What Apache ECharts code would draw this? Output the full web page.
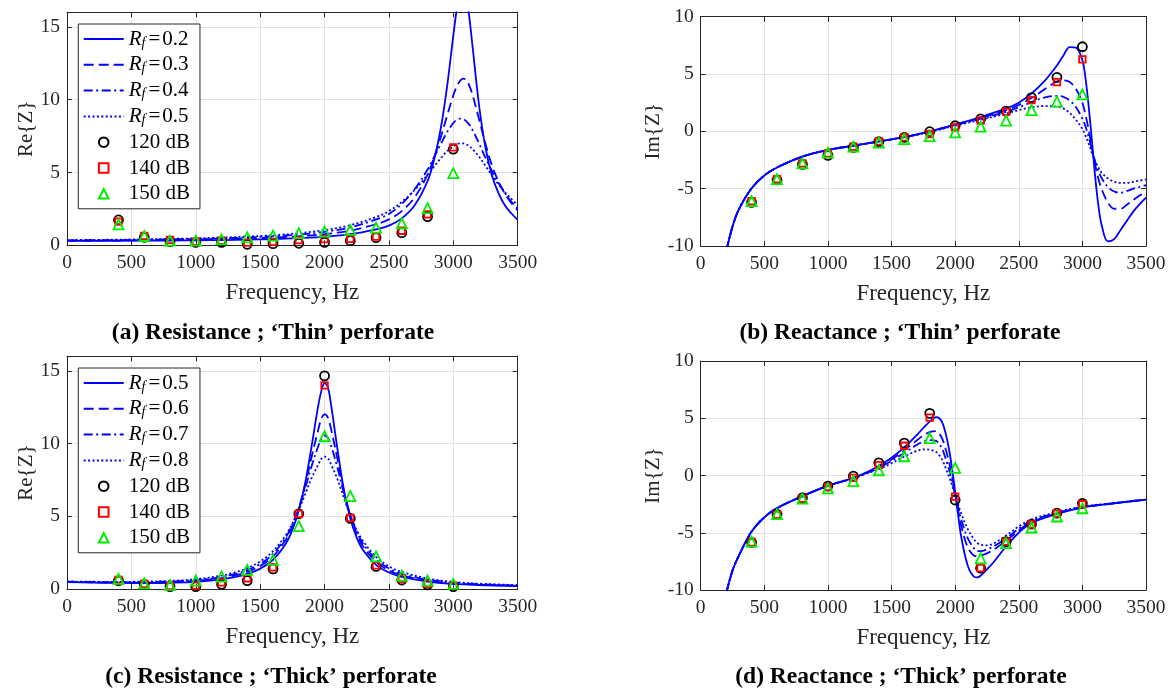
<!DOCTYPE html>
<html><head><meta charset="utf-8">
<script src="https://cdn.jsdelivr.net/npm/echarts@6/dist/echarts.min.js"></script>
<style>html,body{margin:0;padding:0;background:#fff}#c{width:1172px;height:692px}</style>
</head><body><div id="c"></div>
<script>
// ---------- data ----------
const FA = [0,200,400,600,800,1000,1200,1400,1600,1800,2000,2200,2400,2500,2600,2700,2800,2850,2900,2950,3000,3025,3050,3075,3100,3125,3150,3200,3250,3300,3350,3400,3450,3500];
const reThin02 = [0.30,0.30,0.31,0.32,0.33,0.34,0.36,0.39,0.43,0.49,0.58,0.76,1.10,1.35,1.85,2.75,4.40,5.85,7.90,10.8,14.4,16.1,17.3,17.7,17.1,15.6,13.6,9.6,6.7,4.8,3.6,2.75,2.2,1.75];
const reThin03 = [0.32,0.33,0.34,0.35,0.37,0.39,0.43,0.47,0.53,0.62,0.77,1.01,1.45,1.78,2.35,3.30,4.85,6.00,7.35,8.85,10.3,10.88,11.27,11.45,11.35,10.95,10.3,8.65,6.95,5.5,4.4,3.55,2.9,2.4];
const reThin04 = [0.34,0.35,0.36,0.38,0.41,0.44,0.48,0.54,0.62,0.74,0.92,1.23,1.78,2.15,2.85,3.85,5.2,6.05,6.9,7.75,8.4,8.6,8.7,8.68,8.53,8.27,7.9,7.0,6.0,5.1,4.3,3.6,3.0,2.55];
const reThin05 = [0.36,0.37,0.39,0.41,0.44,0.48,0.53,0.6,0.69,0.83,1.04,1.38,1.94,2.35,2.98,3.8,4.85,5.4,5.95,6.45,6.8,6.93,7.0,7.0,6.93,6.8,6.6,6.08,5.45,4.8,4.2,3.65,3.2,2.75];

const FB = [200,250,300,400,500,600,800,1000,1200,1400,1600,1800,2000,2200,2400,2500,2600,2700,2800,2850,2900,2950,3000,3025,3050,3075,3100,3125,3150,3200,3250,3300,3350,3400,3450,3500];
const imThin02 = [-10.5,-8.3,-6.8,-4.97,-3.85,-3.15,-2.2,-1.63,-1.25,-0.88,-0.5,0.0,0.6,1.25,2.0,2.5,3.3,4.35,5.75,6.6,7.35,7.3,6.2,4.6,2.1,-0.8,-3.9,-6.4,-8.1,-9.6,-9.4,-8.6,-7.8,-7.0,-6.35,-5.78];
const imThin03 = [-10.5,-8.3,-6.8,-4.97,-3.85,-3.15,-2.2,-1.63,-1.25,-0.88,-0.5,-0.02,0.58,1.18,1.85,2.3,2.9,3.65,4.35,4.45,4.3,3.7,2.5,1.4,0.1,-1.5,-2.9,-4.1,-5.0,-6.2,-6.75,-6.75,-6.4,-6.0,-5.6,-5.3];
const imThin04 = [-10.5,-8.3,-6.8,-4.97,-3.85,-3.15,-2.2,-1.63,-1.25,-0.88,-0.5,-0.04,0.55,1.1,1.7,2.1,2.55,2.95,3.1,3.0,2.7,2.1,1.1,0.4,-0.5,-1.6,-2.6,-3.4,-4.05,-4.85,-5.25,-5.35,-5.2,-5.0,-4.85,-4.7];
const imThin05 = [-10.5,-8.3,-6.8,-4.97,-3.85,-3.15,-2.2,-1.63,-1.25,-0.88,-0.5,-0.06,0.5,1.0,1.55,1.85,2.1,2.2,2.15,2.0,1.6,1.0,0.2,-0.4,-1.1,-1.9,-2.6,-3.15,-3.6,-4.1,-4.4,-4.5,-4.5,-4.4,-4.3,-4.2];

const FC = [0,200,400,600,800,1000,1200,1300,1400,1500,1600,1700,1750,1800,1850,1900,1950,1975,2000,2025,2050,2100,2150,2200,2250,2300,2400,2500,2600,2800,3000,3200,3500];
const reThick05 = [0.47,0.44,0.42,0.41,0.43,0.49,0.66,0.81,1.04,1.4,2.01,3.13,4.06,5.4,7.3,9.84,12.55,13.6,14.15,13.9,12.7,9.63,6.83,4.85,3.53,2.66,1.66,1.13,0.83,0.51,0.35,0.27,0.2];
const reThick06 = [0.48,0.46,0.44,0.44,0.47,0.55,0.75,0.92,1.18,1.58,2.24,3.4,4.31,5.55,7.15,9.09,10.91,11.7,12.0,11.8,11.02,8.94,6.76,5.03,3.79,2.92,1.87,1.28,0.95,0.58,0.4,0.3,0.22];
const reThick07 = [0.5,0.48,0.46,0.47,0.51,0.61,0.82,1.02,1.3,1.72,2.41,3.57,4.44,5.55,6.93,8.45,9.79,10.3,10.55,10.4,9.87,8.34,6.61,5.11,3.95,3.1,2.03,1.41,1.04,0.64,0.44,0.33,0.24];
const reThick08 = [0.52,0.5,0.49,0.51,0.56,0.67,0.92,1.13,1.44,1.89,2.6,3.72,4.5,5.44,6.53,7.63,8.52,8.95,9.1,9.0,8.57,7.55,6.27,5.07,4.06,3.28,2.21,1.56,1.17,0.72,0.49,0.37,0.27];

const FD = [200,250,300,400,500,600,800,1000,1200,1300,1400,1500,1600,1700,1750,1800,1850,1875,1900,1925,1950,1975,2000,2025,2050,2100,2150,2175,2200,2250,2300,2400,2500,2600,2800,3000,3200,3500];
const imThick05 = [-10.3,-8.3,-7.0,-4.9,-3.65,-2.85,-1.8,-0.9,-0.2,0.25,0.85,1.55,2.45,3.55,4.15,4.7,5.1,5.0,4.6,3.7,2.4,0.65,-1.45,-3.6,-5.5,-7.9,-8.85,-8.9,-8.75,-8.2,-7.6,-6.2,-5.0,-4.15,-3.35,-2.8,-2.5,-2.1];
const imThick06 = [-10.3,-8.3,-7.0,-4.9,-3.65,-2.85,-1.8,-0.9,-0.22,0.22,0.76,1.4,2.2,3.08,3.5,3.79,3.88,3.65,3.18,2.32,1.25,-0.07,-1.58,-3.11,-4.5,-6.3,-7.0,-7.05,-7.0,-6.8,-6.5,-5.7,-4.8,-4.06,-3.31,-2.78,-2.49,-2.1];
const imThick07 = [-10.3,-8.3,-7.0,-4.9,-3.65,-2.85,-1.8,-0.9,-0.24,0.19,0.67,1.27,1.97,2.68,2.97,3.09,3.02,2.74,2.27,1.49,0.58,-0.47,-1.65,-2.83,-3.93,-5.5,-6.4,-6.6,-6.6,-6.45,-6.2,-5.5,-4.65,-3.97,-3.27,-2.76,-2.48,-2.1];
const imThick08 = [-10.3,-8.3,-7.0,-4.9,-3.65,-2.85,-1.8,-0.9,-0.26,0.15,0.54,1.07,1.65,2.15,2.28,2.25,2.06,1.76,1.33,0.66,-0.06,-0.84,-1.71,-2.58,-3.39,-4.7,-5.6,-5.9,-6.05,-6.1,-5.95,-5.25,-4.45,-3.83,-3.2,-2.72,-2.46,-2.1];

const FM = [400,600,800,1000,1200,1400,1600,1800,2000,2200,2400,2600,2800,3000];
const reThin120 = [1.74,0.55,0.25,0.2,0.2,0.07,0.11,0.14,0.2,0.32,0.53,0.87,1.97,6.6];
const reThin140 = [1.63,0.64,0.37,0.25,0.32,0.18,0.23,0.35,0.42,0.44,0.6,1.0,2.13,6.72];
const reThin150 = [1.44,0.64,0.32,0.32,0.41,0.55,0.67,0.83,0.94,1.06,1.22,1.51,2.55,4.95];
const imThin120 = [-6.19,-4.24,-2.88,-2.09,-1.4,-0.9,-0.52,-0.03,0.49,1.08,1.77,2.94,4.71,7.38];
const imThin140 = [-6.08,-4.16,-2.79,-1.92,-1.34,-0.87,-0.52,-0.23,0.35,0.93,1.69,2.73,4.3,6.28];
const imThin150 = [-6.08,-4.16,-2.79,-1.86,-1.34,-0.99,-0.67,-0.41,-0.09,0.41,0.93,1.86,2.59,3.23];
const reThick120 = [0.58,0.32,0.16,0.16,0.32,0.58,1.38,5.17,14.65,4.85,1.55,0.62,0.28,0.16];
const reThick140 = [0.62,0.35,0.21,0.23,0.46,0.74,1.48,5.17,14.0,4.89,1.62,0.69,0.35,0.23];
const reThick150 = [0.69,0.39,0.28,0.58,0.85,1.32,2.0,4.32,10.5,6.39,2.24,0.92,0.58,0.35];
const imThick120 = [-5.84,-3.38,-1.94,-0.92,-0.06,1.1,2.83,5.43,-2.14,-8.09,-5.78,-4.25,-3.29,-2.43];
const imThick140 = [-5.84,-3.44,-2.02,-1.01,-0.2,0.9,2.6,5.06,-1.85,-8.09,-5.78,-4.28,-3.32,-2.51];
const imThick150 = [-5.78,-3.38,-2.02,-1.13,-0.49,0.46,1.68,3.27,0.66,-7.23,-5.9,-4.54,-3.58,-2.86];

const rfThin = ['0.2','0.3','0.4','0.5'];
const rfThick = ['0.5','0.6','0.7','0.8'];
const splLabels = ['120 dB','140 dB','150 dB'];
const titles = ['(a) Resistance ; \u2018Thin\u2019 perforate','(b) Reactance ; \u2018Thin\u2019 perforate','(c) Resistance ; \u2018Thick\u2019 perforate','(d) Reactance ; \u2018Thick\u2019 perforate'];

// ---------- styling / layout ----------
const SERIF = '"Liberation Serif","Times New Roman",serif';
const AX = '#262626';
const BLUE = '#0000ff';
const lineTypes = ['solid', [10,5], [9,3.5,2,3.5], [2,2.4]];
const markerDefs = [
  {symbol:'circle', size:9, color:'#000000'},
  {symbol:'rect', size:6.5, color:'#ff0000'},
  {symbol:'triangle', size:10, color:'#00ee00'}
];

const panels = [
  {prefix:'A', grid:{left:67,top:12.3,width:450.7,height:233}, ymin:0, ymax:16, yname:'Re{Z}', ngap:29,
   fx:FA, lines:[reThin02,reThin03,reThin04,reThin05], rf:rfThin, marks:[reThin120,reThin140,reThin150], legendTop:24, title:[273,333]},
  {prefix:'B', grid:{left:700.7,top:16.7,width:445.3,height:229.3}, ymin:-10, ymax:10, yname:'Im{Z}', ngap:36,
   fx:FB, lines:[imThin02,imThin03,imThin04,imThin05], rf:rfThin, marks:[imThin120,imThin140,imThin150], title:[900,333]},
  {prefix:'C', grid:{left:67,top:356.2,width:450.7,height:232.8}, ymin:0, ymax:16, yname:'Re{Z}', ngap:29,
   fx:FC, lines:[reThick05,reThick06,reThick07,reThick08], rf:rfThick, marks:[reThick120,reThick140,reThick150], legendTop:368, title:[271,677]},
  {prefix:'D', grid:{left:700.7,top:361,width:445.3,height:229}, ymin:-10, ymax:10, yname:'Im{Z}', ngap:36,
   fx:FD, lines:[imThick05,imThick06,imThick07,imThick08], rf:rfThick, marks:[imThick120,imThick140,imThick150], title:[901,677]}
];

function pairs(xs, ys){ return xs.map((x,i)=>[x, ys[i]]); }

const grids=[], xAxes=[], yAxes=[], series=[], legends=[], graphics=[];
const axLine = {show:true, onZero:false, lineStyle:{color:AX, width:1}};
const axTick = {show:true, inside:true, length:5, lineStyle:{color:AX, width:1}};
const splitL = {show:true, lineStyle:{color:'#e2e2e2', width:1}};
const tickFont = {fontFamily:SERIF, fontSize:19.5, color:AX, formatter:function(v){ return String(v); }};

panels.forEach((p, i) => {
  grids.push(Object.assign({show:false, containLabel:false}, p.grid));
  const xb = {type:'value', gridIndex:i, min:0, max:3500, interval:500, position:'bottom',
    axisLine:axLine, axisTick:axTick, splitLine:splitL,
    axisLabel:Object.assign({margin:8}, tickFont),
    name:'Frequency, Hz', nameLocation:'middle', nameGap:36,
    nameTextStyle:{fontFamily:SERIF, fontSize:23, color:AX}};
  const xt = {type:'value', gridIndex:i, min:0, max:3500, interval:500, position:'top',
    axisLine:axLine, axisTick:axTick, splitLine:{show:false}, axisLabel:{show:false}};
  xAxes.push(xb, xt);
  const yl = {type:'value', gridIndex:i, min:p.ymin, max:p.ymax, interval:5, position:'left',
    axisLine:axLine, axisTick:axTick, splitLine:splitL,
    axisLabel:Object.assign({margin:7, showMaxLabel: p.ymax===16 ? false : true}, tickFont),
    name:p.yname, nameLocation:'middle', nameGap:p.ngap, nameRotate:90,
    nameTextStyle:{fontFamily:SERIF, fontSize:21, color:AX}};
  const yr = {type:'value', gridIndex:i, min:p.ymin, max:p.ymax, interval:5, position:'right',
    axisLine:axLine, axisTick:axTick, splitLine:{show:false}, axisLabel:{show:false}};
  yAxes.push(yl, yr);

  const names = [];
  p.lines.forEach((ys, k) => {
    const nm = p.prefix + '|Rf=' + p.rf[k];
    names.push(nm);
    series.push({type:'line', name:nm, xAxisIndex:2*i, yAxisIndex:2*i,
      data:pairs(p.fx, ys), symbol:'none', showSymbol:false, smooth:0.35, clip:true,
      lineStyle:{color:BLUE, width:1.8, type:lineTypes[k]}, itemStyle:{color:BLUE},
      z:2, silent:true});
  });
  p.marks.forEach((ys, k) => {
    const md = markerDefs[k];
    const nm = p.prefix + '|' + splLabels[k];
    names.push(nm);
    // markers only: a line series whose connecting line is invisible
    series.push({type:'line', name:nm, xAxisIndex:2*i, yAxisIndex:2*i,
      data:pairs(FM, ys), symbol:md.symbol, symbolSize:md.size, showSymbol:true, showAllSymbol:true,
      lineStyle:{width:0, opacity:0},
      itemStyle:{color:'rgba(255,255,255,0)', borderColor:md.color, borderWidth:1.8, opacity:1},
      z:3, silent:true});
  });
  if (p.legendTop !== undefined) {
    legends.push({
      orient:'vertical', left:78.3, top:p.legendTop,
      data:names.map((n, k) => k < 4 ? {name:n, itemStyle:{opacity:0}} : {name:n}),
      itemWidth:40, itemHeight:12, itemGap:3.8,
      padding:[4, 10, 4, 4.4],
      backgroundColor:'#ffffff', borderColor:AX, borderWidth:1, borderRadius:0,
      selectedMode:false, z:10,
      formatter: function(name){
        const s = name.split('|')[1];
        if (s.indexOf('Rf=') === 0) return '{r|R}{f|f}{e|=}{t|' + s.slice(3) + '}';
        return '{t|' + s + '}';
      },
      textStyle:{fontFamily:SERIF, fontSize:21, color:'#000', lineHeight:22,
        rich:{
          r:{fontFamily:SERIF, fontStyle:'italic', fontSize:21, lineHeight:22},
          f:{fontFamily:SERIF, fontStyle:'italic', fontSize:14, lineHeight:14, padding:[8,1,0,0]},
          e:{fontFamily:SERIF, fontSize:21, lineHeight:22, padding:[0,2,0,2]},
          t:{fontFamily:SERIF, fontSize:21, lineHeight:22}
        }}
    });
  }
  graphics.push({type:'text', x:p.title[0], y:p.title[1],
    style:{text:titles[i], fill:'#000', font:'bold 23.5px ' + SERIF, align:'center', verticalAlign:'middle', textAlign:'center', textVerticalAlign:'middle'}});
});

const chart = echarts.init(document.getElementById('c'), null, {renderer:'canvas'});
chart.setOption({
  animation:false,
  backgroundColor:'#ffffff',
  grid:grids, xAxis:xAxes, yAxis:yAxes, series:series, legend:legends, graphic:graphics
});
</script></body></html>
